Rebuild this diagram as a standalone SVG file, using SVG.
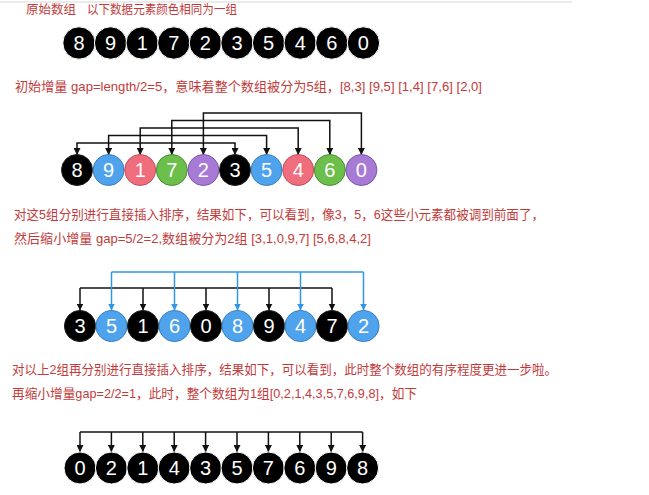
<svg xmlns="http://www.w3.org/2000/svg" width="649" height="495" viewBox="0 0 649 495">
<style>
.t{font-family:"Liberation Sans","Noto Sans CJK SC",sans-serif;font-size:13px;fill:#c23b3b}
.t1{font-size:12.5px}
.n{font-family:"Liberation Sans",Arial,sans-serif;font-size:20px;fill:#fff;text-anchor:middle}
.k{fill:#000;stroke:#fff;stroke-width:1}
.kb{fill:#000;stroke:#222;stroke-width:1}
.b{fill:#4ea3ec;stroke:#3a7fc0;stroke-width:1}
.p{fill:#ef6d7c;stroke:#c0505e;stroke-width:1}
.g{fill:#6cbf4b;stroke:#4b8d33;stroke-width:1}
.v{fill:#a77ad6;stroke:#7d57a8;stroke-width:1}
.c{fill:none;stroke:#111;stroke-width:1.5}
.cb{fill:none;stroke:#2f97e6;stroke-width:1.5}
</style>
<defs>
<marker id="ah" viewBox="0 0 10 10" refX="10" refY="5" markerWidth="7" markerHeight="7" markerUnits="userSpaceOnUse" orient="auto-start-reverse"><path d="M0,0 L10,5 L0,10 z" fill="#111"/></marker>
<marker id="ahb" viewBox="0 0 10 10" refX="10" refY="5" markerWidth="7" markerHeight="7" markerUnits="userSpaceOnUse" orient="auto-start-reverse"><path d="M0,0 L10,5 L0,10 z" fill="#2f97e6"/></marker>
</defs>
<rect width="649" height="495" fill="#fff"/>
<line x1="0" y1="2" x2="572" y2="2" stroke="#e4e4e4" stroke-width="1.5"/>

<g id="texts">
<text class="t t1" x="26" y="14" textLength="50" lengthAdjust="spacingAndGlyphs">原始数组</text>
<text class="t t1" x="87" y="14" textLength="150" lengthAdjust="spacingAndGlyphs">以下数据元素颜色相同为一组</text>
<text class="t" x="15" y="91" textLength="467" lengthAdjust="spacingAndGlyphs">初始增量 gap=length/2=5，意味着整个数组被分为5组，[8,3] [9,5] [1,4] [7,6] [2,0]</text>
<text class="t" x="14" y="219" textLength="530" lengthAdjust="spacingAndGlyphs">对这5组分别进行直接插入排序，结果如下，可以看到，像3，5，6这些小元素都被调到前面了，</text>
<text class="t" x="14" y="243" textLength="357" lengthAdjust="spacingAndGlyphs">然后缩小增量 gap=5/2=2,数组被分为2组 [3,1,0,9,7] [5,6,8,4,2]</text>
<text class="t" x="12" y="374" textLength="545" lengthAdjust="spacingAndGlyphs">对以上2组再分别进行直接插入排序，结果如下，可以看到，此时整个数组的有序程度更进一步啦。</text>
<text class="t" x="12" y="398" textLength="405" lengthAdjust="spacingAndGlyphs">再缩小增量gap=2/2=1，此时，整个数组为1组[0,2,1,4,3,5,7,6,9,8]，如下</text>
</g>

<g id="connectors">
<path class="c" d="M77,155 V143 H235 V155" marker-start="url(#ah)" marker-end="url(#ah)"/>
<path class="c" d="M108.6,155 V135.5 H266.6 V155" marker-start="url(#ah)" marker-end="url(#ah)"/>
<path class="c" d="M140.2,155 V128 H298.2 V155" marker-start="url(#ah)" marker-end="url(#ah)"/>
<path class="c" d="M171.8,155 V120.5 H329.8 V155" marker-start="url(#ah)" marker-end="url(#ah)"/>
<path class="c" d="M203.4,155 V113 H361.4 V155" marker-start="url(#ah)" marker-end="url(#ah)"/>

<path class="c" d="M80,288 H332"/>
<path class="c" d="M80,288 V310.5" marker-end="url(#ah)"/>
<path class="c" d="M143,288 V310.5" marker-end="url(#ah)"/>
<path class="c" d="M206,288 V310.5" marker-end="url(#ah)"/>
<path class="c" d="M269,288 V310.5" marker-end="url(#ah)"/>
<path class="c" d="M332,288 V310.5" marker-end="url(#ah)"/>
<path class="cb" d="M111.5,272 H363.5"/>
<path class="cb" d="M111.5,272 V310.5" marker-end="url(#ahb)"/>
<path class="cb" d="M174.5,272 V310.5" marker-end="url(#ahb)"/>
<path class="cb" d="M237.5,272 V310.5" marker-end="url(#ahb)"/>
<path class="cb" d="M300.5,272 V310.5" marker-end="url(#ahb)"/>
<path class="cb" d="M363.5,272 V310.5" marker-end="url(#ahb)"/>

<path class="c" d="M80,432 H362.6"/>
<path class="c" d="M80,432 V452" marker-end="url(#ah)"/>
<path class="c" d="M111.4,432 V452" marker-end="url(#ah)"/>
<path class="c" d="M142.8,432 V452" marker-end="url(#ah)"/>
<path class="c" d="M174.2,432 V452" marker-end="url(#ah)"/>
<path class="c" d="M205.6,432 V452" marker-end="url(#ah)"/>
<path class="c" d="M237,432 V452" marker-end="url(#ah)"/>
<path class="c" d="M268.4,432 V452" marker-end="url(#ah)"/>
<path class="c" d="M299.8,432 V452" marker-end="url(#ah)"/>
<path class="c" d="M331.2,432 V452" marker-end="url(#ah)"/>
<path class="c" d="M362.6,432 V452" marker-end="url(#ah)"/>
</g>

<g id="row1">
<g id="r1n0"><circle class="k" cx="79" cy="43" r="16.2"/><text class="n" x="79" y="50">8</text></g>
<g id="r1n1"><circle class="k" cx="110.6" cy="43" r="16.2"/><text class="n" x="110.6" y="50">9</text></g>
<g id="r1n2"><circle class="k" cx="142.2" cy="43" r="16.2"/><text class="n" x="142.2" y="50">1</text></g>
<g id="r1n3"><circle class="k" cx="173.8" cy="43" r="16.2"/><text class="n" x="173.8" y="50">7</text></g>
<g id="r1n4"><circle class="k" cx="205.4" cy="43" r="16.2"/><text class="n" x="205.4" y="50">2</text></g>
<g id="r1n5"><circle class="k" cx="237" cy="43" r="16.2"/><text class="n" x="237" y="50">3</text></g>
<g id="r1n6"><circle class="k" cx="268.6" cy="43" r="16.2"/><text class="n" x="268.6" y="50">5</text></g>
<g id="r1n7"><circle class="k" cx="300.2" cy="43" r="16.2"/><text class="n" x="300.2" y="50">4</text></g>
<g id="r1n8"><circle class="k" cx="331.8" cy="43" r="16.2"/><text class="n" x="331.8" y="50">6</text></g>
<g id="r1n9"><circle class="k" cx="363.4" cy="43" r="16.2"/><text class="n" x="363.4" y="50">0</text></g>
</g>

<g id="row2">
<g id="r2n0"><circle class="kb" cx="77" cy="170" r="15.5"/><text class="n" x="77" y="177">8</text></g>
<g id="r2n1"><circle class="b" cx="108.6" cy="170" r="15.5"/><text class="n" x="108.6" y="177">9</text></g>
<g id="r2n2"><circle class="p" cx="140.2" cy="170" r="15.5"/><text class="n" x="140.2" y="177">1</text></g>
<g id="r2n3"><circle class="g" cx="171.8" cy="170" r="15.5"/><text class="n" x="171.8" y="177">7</text></g>
<g id="r2n4"><circle class="v" cx="203.4" cy="170" r="15.5"/><text class="n" x="203.4" y="177">2</text></g>
<g id="r2n5"><circle class="kb" cx="235" cy="170" r="15.5"/><text class="n" x="235" y="177">3</text></g>
<g id="r2n6"><circle class="b" cx="266.6" cy="170" r="15.5"/><text class="n" x="266.6" y="177">5</text></g>
<g id="r2n7"><circle class="p" cx="298.2" cy="170" r="15.5"/><text class="n" x="298.2" y="177">4</text></g>
<g id="r2n8"><circle class="g" cx="329.8" cy="170" r="15.5"/><text class="n" x="329.8" y="177">6</text></g>
<g id="r2n9"><circle class="v" cx="361.4" cy="170" r="15.5"/><text class="n" x="361.4" y="177">0</text></g>
</g>

<g id="row3">
<g id="r3n0"><circle class="kb" cx="80" cy="326" r="15.6"/><text class="n" x="80" y="333">3</text></g>
<g id="r3n1"><circle class="b" cx="111.5" cy="326" r="15.6"/><text class="n" x="111.5" y="333">5</text></g>
<g id="r3n2"><circle class="kb" cx="143" cy="326" r="15.6"/><text class="n" x="143" y="333">1</text></g>
<g id="r3n3"><circle class="b" cx="174.5" cy="326" r="15.6"/><text class="n" x="174.5" y="333">6</text></g>
<g id="r3n4"><circle class="kb" cx="206" cy="326" r="15.6"/><text class="n" x="206" y="333">0</text></g>
<g id="r3n5"><circle class="b" cx="237.5" cy="326" r="15.6"/><text class="n" x="237.5" y="333">8</text></g>
<g id="r3n6"><circle class="kb" cx="269" cy="326" r="15.6"/><text class="n" x="269" y="333">9</text></g>
<g id="r3n7"><circle class="b" cx="300.5" cy="326" r="15.6"/><text class="n" x="300.5" y="333">4</text></g>
<g id="r3n8"><circle class="kb" cx="332" cy="326" r="15.6"/><text class="n" x="332" y="333">7</text></g>
<g id="r3n9"><circle class="b" cx="363.5" cy="326" r="15.6"/><text class="n" x="363.5" y="333">2</text></g>
</g>

<g id="row4">
<g id="r4n0"><circle class="k" cx="80" cy="468" r="16"/><text class="n" x="80" y="475">0</text></g>
<g id="r4n1"><circle class="k" cx="111.4" cy="468" r="16"/><text class="n" x="111.4" y="475">2</text></g>
<g id="r4n2"><circle class="k" cx="142.8" cy="468" r="16"/><text class="n" x="142.8" y="475">1</text></g>
<g id="r4n3"><circle class="k" cx="174.2" cy="468" r="16"/><text class="n" x="174.2" y="475">4</text></g>
<g id="r4n4"><circle class="k" cx="205.6" cy="468" r="16"/><text class="n" x="205.6" y="475">3</text></g>
<g id="r4n5"><circle class="k" cx="237" cy="468" r="16"/><text class="n" x="237" y="475">5</text></g>
<g id="r4n6"><circle class="k" cx="268.4" cy="468" r="16"/><text class="n" x="268.4" y="475">7</text></g>
<g id="r4n7"><circle class="k" cx="299.8" cy="468" r="16"/><text class="n" x="299.8" y="475">6</text></g>
<g id="r4n8"><circle class="k" cx="331.2" cy="468" r="16"/><text class="n" x="331.2" y="475">9</text></g>
<g id="r4n9"><circle class="k" cx="362.6" cy="468" r="16"/><text class="n" x="362.6" y="475">8</text></g>
</g>
</svg>
